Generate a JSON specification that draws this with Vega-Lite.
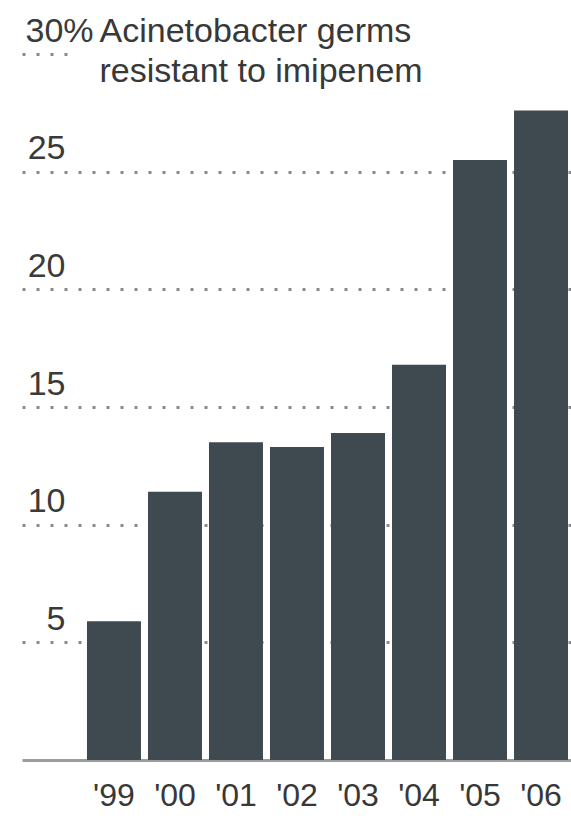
{
  "$schema": "https://vega.github.io/schema/vega-lite/v6.json",
  "autosize": "none",
  "width": 549,
  "height": 706,
  "padding": {"top": 54, "left": 22, "right": 0, "bottom": 62},
  "background": "white",
  "config": {
    "view": {"stroke": null},
    "font": "Liberation Sans"
  },
  "title": {
    "text": ["Acinetobacter germs", "resistant to imipenem"],
    "anchor": "start",
    "align": "left",
    "baseline": "alphabetic",
    "dx": 79,
    "offset": -102,
    "fontSize": 34,
    "fontWeight": "normal",
    "color": "#383838",
    "lineHeight": 40,
    "font": "Liberation Sans"
  },
  "data": {
    "values": [
      {"year": "'99", "pct": 5.9},
      {"year": "'00", "pct": 11.4},
      {"year": "'01", "pct": 13.5},
      {"year": "'02", "pct": 13.3},
      {"year": "'03", "pct": 13.9},
      {"year": "'04", "pct": 16.8},
      {"year": "'05", "pct": 25.5},
      {"year": "'06", "pct": 27.6}
    ]
  },
  "mark": {"type": "bar", "color": "#3e4a50"},
  "encoding": {
    "x": {
      "field": "year",
      "type": "nominal",
      "sort": null,
      "scale": {"paddingInner": 0.115, "paddingOuter": 0.557, "align": 0.956},
      "axis": {
        "title": null,
        "labelAngle": 0,
        "ticks": false,
        "domain": true,
        "domainColor": "#9c9c9c",
        "domainWidth": 3,
        "labelFontSize": 32,
        "labelColor": "#383838",
        "labelPadding": 20,
        "labelFont": "Liberation Sans"
      }
    },
    "y": {
      "field": "pct",
      "type": "quantitative",
      "scale": {"domain": [0, 30], "nice": false},
      "axis": {
        "title": null,
        "values": [5, 10, 15, 20, 25, 30],
        "domain": false,
        "ticks": true,
        "tickSize": -48,
        "tickWidth": 3,
        "tickColor": "#8a8a8a",
        "tickDash": [3, 11],
        "tickOpacity": {"condition": {"test": "datum.value == 30", "value": 1}, "value": 0},
        "grid": true,
        "gridColor": "#8a8a8a",
        "gridWidth": 3,
        "gridDash": [3, 11],
        "gridOpacity": {"condition": {"test": "datum.value == 30", "value": 0}, "value": 1},
        "labelFontSize": 34,
        "labelColor": "#3a3a3a",
        "labelFont": "Liberation Sans",
        "labelBaseline": "alphabetic",
        "labelOffset": -13,
        "labelAlign": {"condition": {"test": "datum.value == 30", "value": "left"}, "value": "right"},
        "labelPadding": {"condition": {"test": "datum.value == 30", "value": 45}, "value": 5},
        "labelExpr": "datum.value == 30 ? '30%' : datum.label"
      }
    }
  }
}
